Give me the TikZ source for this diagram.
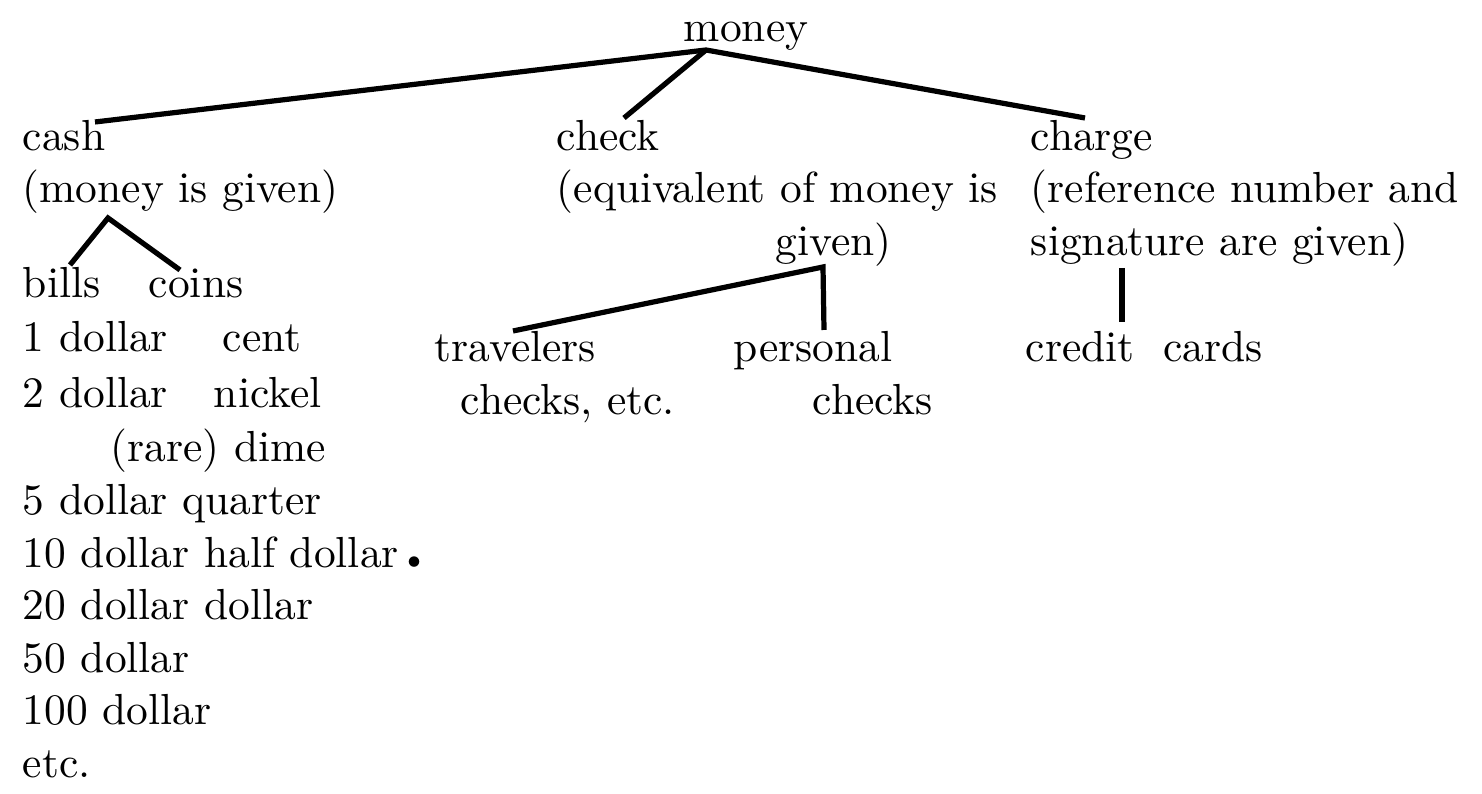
\documentclass[tikz,border=0pt]{standalone}
\usepackage{tikz}

\begin{document}
\begin{tikzpicture}[x=0.23pt, y=-0.23pt,
    every node/.style={anchor=base west, inner sep=0pt},
    branch/.style={line width=1.2pt}]
            \useasboundingbox (0, 0) rectangle (1482, 794);
            % top level
            \node (money) at (683, 42) {money};
            \node (cash) at (22, 151) {cash};
            \node (cashnote) at (22, 203) {(money is given)};
            \node (check) at (556, 151) {check};
            \node (checknote) at (556, 203) {(equivalent of money is};
            \node (checknotetwo) at (775, 256) {given)};
            \node (charge) at (1030, 151) {charge};
            \node (chargenote) at (1030, 203) {(reference number and};
            \node (chargenotetwo) at (1030, 256) {signature are given)};
            \coordinate (moneyfoot) at (706, 50);
            \coordinate (cashtip) at (95, 122);
            \coordinate (checktip) at (624, 118);
            \coordinate (chargetip) at (1085, 118);
            \draw[branch] (cashtip) -- (moneyfoot) -- (chargetip);
            \draw[branch] (moneyfoot) -- (checktip);
            % cash
            \node (bills) at (22, 298) {bills};
            \node (coins) at (148, 298) {coins};
            \coordinate (cashfoot) at (108, 218);
            \coordinate (billstip) at (70, 265);
            \coordinate (coinstip) at (180, 270);
            \draw[branch] (billstip) -- (cashfoot) -- (coinstip);
            \node (bone) at (22, 352) {1~dollar};
            \node (cent) at (222, 352) {cent};
            \node (btwo) at (22, 408) {2 dollar};
            \node (nickel) at (213, 408) {nickel};
            \node (dime) at (110, 462) {(rare) dime};
            \node (bfive) at (22, 515) {5 dollar quarter};
            \node (bten) at (22, 568) {10 dollar half dollar\,{\tiny$\bullet$}};
            \node (btwenty) at (22, 620) {20 dollar dollar};
            \node (bfifty) at (22, 673) {50 dollar};
            \node (bhundred) at (22, 725) {100 dollar};
            \node (betc) at (22, 778) {etc.};
            % check
            \node (travelers) at (434, 362) {travelers};
            \node (travelerstwo) at (460, 415) {checks, etc.};
            \node (personal) at (733, 362) {personal};
            \node (personaltwo) at (812, 415) {checks};
            \coordinate (checkfoot) at (823, 267);
            \coordinate (travtip) at (513, 331);
            \coordinate (perstip) at (824, 330);
            \draw[branch] (travtip) -- (checkfoot) -- (perstip);
            % charge
            \node (credit) at (1025, 362) {credit~~cards};
            \coordinate (chargefoot) at (1122, 268);
            \coordinate (credittip) at (1122, 322);
            \draw[branch] (chargefoot) -- (credittip);
        \end{tikzpicture}
\end{document}
